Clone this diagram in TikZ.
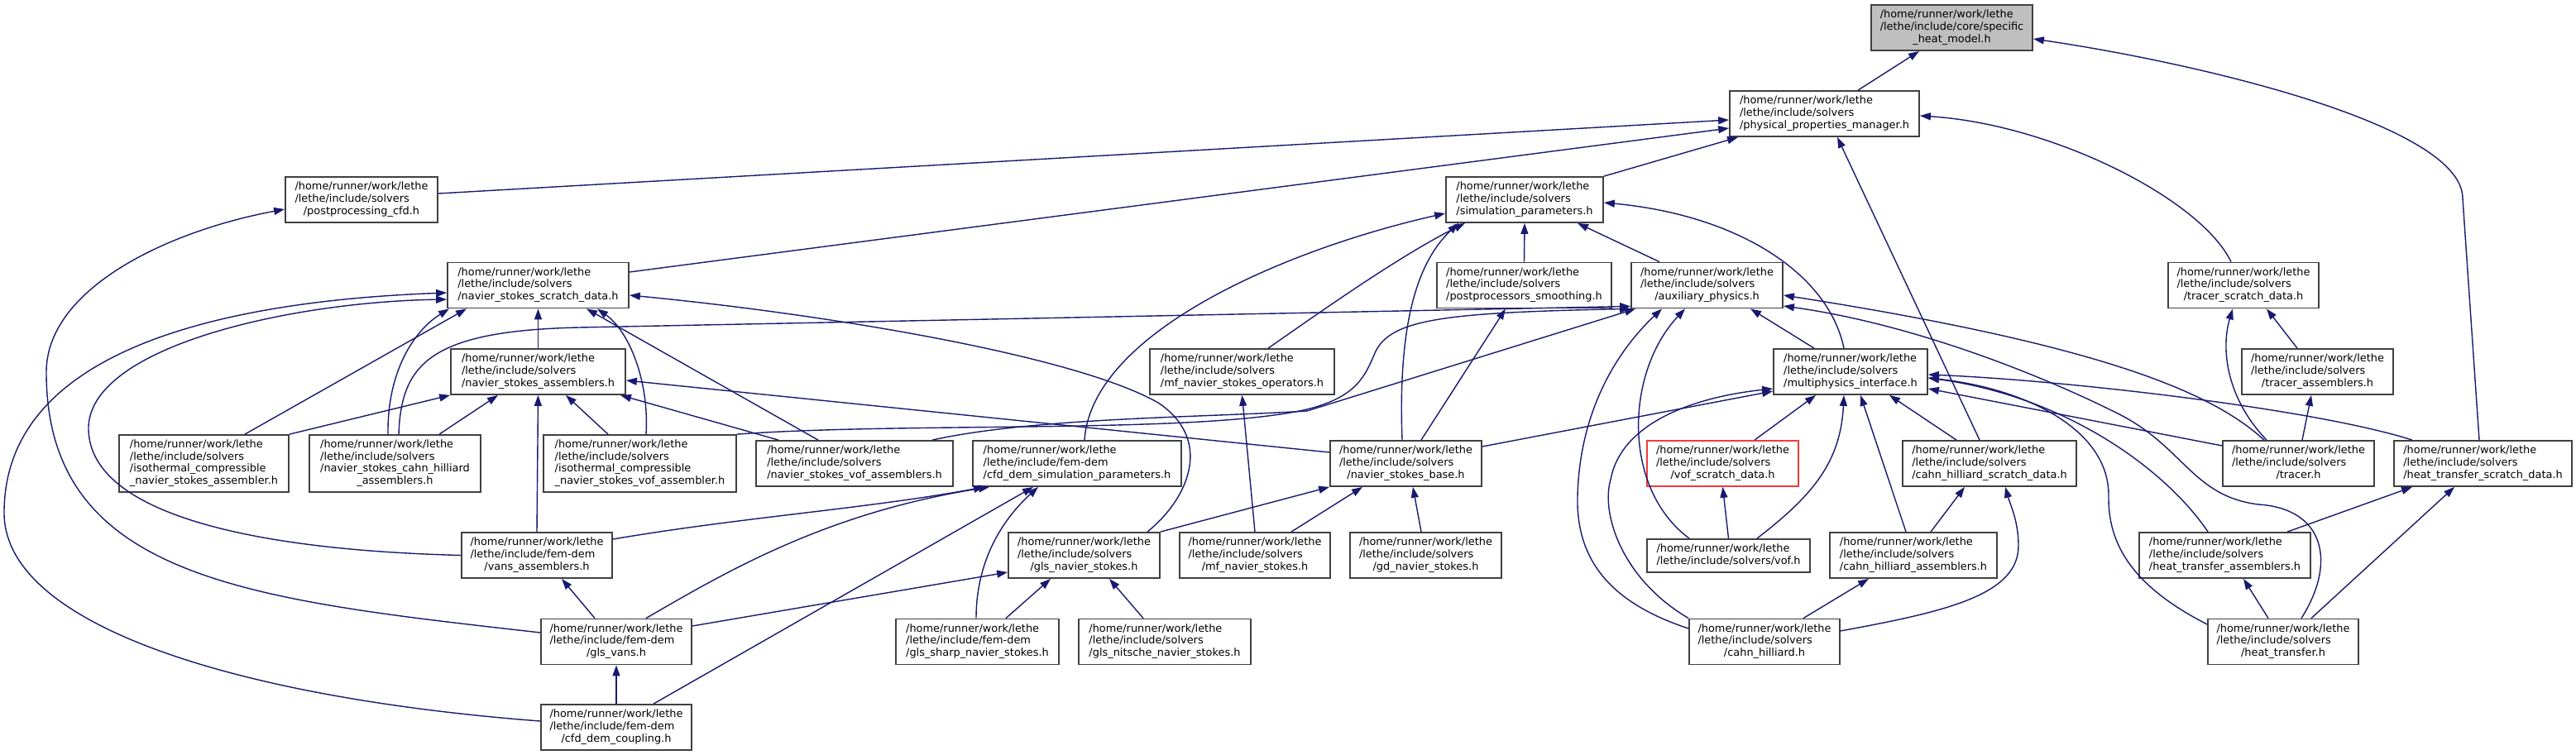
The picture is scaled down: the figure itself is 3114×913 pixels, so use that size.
\documentclass[tikz,border=0pt]{standalone}
\usepackage{fontspec}
\setmainfont{DejaVu Sans}
\usepackage{tikz}
\usetikzlibrary{arrows.meta}
\definecolor{dxblue}{HTML}{191970}
\definecolor{dxborder}{HTML}{404040}
\definecolor{dxgray}{HTML}{BFBFBF}
\definecolor{dxred}{HTML}{F03C3C}
\newcommand{\dxlab}[3]{\begin{tabular}{@{}l@{}}#1\\#2\\\multicolumn{1}{@{}c@{}}{#3}\end{tabular}}
\newcommand{\dxlabf}[4]{\begin{tabular}{@{}l@{}}#1\\#2\\#3\\\multicolumn{1}{@{}c@{}}{#4}\end{tabular}}
\newcommand{\dxlabt}[2]{\begin{tabular}{@{}l@{}}#1\\\multicolumn{1}{@{}c@{}}{#2}\end{tabular}}
\newcommand{\dxroot}{/home/runner/work/lethe}
\tikzset{
  dxfile/.style={draw=dxborder, line width=1.8pt, fill=white, inner sep=0pt, minimum height=55pt, font=\fontsize{12.9}{14.7}\selectfont},
  dxmain/.style={dxfile, fill=dxgray},
  dxtrunc/.style={dxfile, draw=dxred},
  dxarr/.style={-{Triangle[length=13pt, width=9pt]}, line width=1.4pt, draw=dxblue}
}
\begin{document}
\begin{tikzpicture}[x=1pt, y=-1pt]
  \useasboundingbox (0,0) rectangle (3114,913);
  \node[dxmain, minimum width=195pt] (heat) at (2359.5,33.5) {\dxlab{\dxroot}{/lethe/include/core/specific}{\_heat\_model.h}};
  \node[dxfile, minimum width=229pt] (phys) at (2205.5,137.5) {\dxlab{\dxroot}{/lethe/include/solvers}{/physical\_properties\_manager.h}};
  \node[dxfile, minimum width=184pt] (ppcfd) at (437,241.5) {\dxlab{\dxroot}{/lethe/include/solvers}{/postprocessing\_cfd.h}};
  \node[dxfile, minimum width=190pt] (simparams) at (1843,241.5) {\dxlab{\dxroot}{/lethe/include/solvers}{/simulation\_parameters.h}};
  \node[dxfile, minimum width=219pt] (nsscratch) at (650.5,345) {\dxlab{\dxroot}{/lethe/include/solvers}{/navier\_stokes\_scratch\_data.h}};
  \node[dxfile, minimum width=211pt] (ppsmooth) at (1842.5,345) {\dxlab{\dxroot}{/lethe/include/solvers}{/postprocessors\_smoothing.h}};
  \node[dxfile, minimum width=183pt] (aux) at (2063.5,345) {\dxlab{\dxroot}{/lethe/include/solvers}{/auxiliary\_physics.h}};
  \node[dxfile, minimum width=182pt] (tracerscratch) at (2712,345) {\dxlab{\dxroot}{/lethe/include/solvers}{/tracer\_scratch\_data.h}};
  \node[dxfile, minimum width=211pt] (nsasm) at (650.5,449.5) {\dxlab{\dxroot}{/lethe/include/solvers}{/navier\_stokes\_assemblers.h}};
  \node[dxfile, minimum width=223pt] (mfops) at (1501.5,449.5) {\dxlab{\dxroot}{/lethe/include/solvers}{/mf\_navier\_stokes\_operators.h}};
  \node[dxfile, minimum width=186pt] (multi) at (2237,449.5) {\dxlab{\dxroot}{/lethe/include/solvers}{/multiphysics\_interface.h}};
  \node[dxfile, minimum width=183pt] (tracerasm) at (2801.5,449.5) {\dxlab{\dxroot}{/lethe/include/solvers}{/tracer\_assemblers.h}};
  \node[dxfile, minimum width=205pt, minimum height=69pt] (isoasm) at (246.5,560.5) {\dxlabf{\dxroot}{/lethe/include/solvers}{/isothermal\_compressible}{\_navier\_stokes\_assembler.h}};
  \node[dxfile, minimum width=207pt, minimum height=69pt] (nschasm) at (477.5,560.5) {\dxlabf{\dxroot}{/lethe/include/solvers}{/navier\_stokes\_cahn\_hilliard}{\_assemblers.h}};
  \node[dxfile, minimum width=233pt, minimum height=69pt] (isovof) at (773.5,560.5) {\dxlabf{\dxroot}{/lethe/include/solvers}{/isothermal\_compressible}{\_navier\_stokes\_vof\_assembler.h}};
  \node[dxfile, minimum width=238pt] (nsvof) at (1033,560.5) {\dxlab{\dxroot}{/lethe/include/solvers}{/navier\_stokes\_vof\_assemblers.h}};
  \node[dxfile, minimum width=252pt] (cfdsim) at (1302,560.5) {\dxlab{\dxroot}{/lethe/include/fem-dem}{/cfd\_dem\_simulation\_parameters.h}};
  \node[dxfile, minimum width=183pt] (nsbase) at (1699.5,560.5) {\dxlab{\dxroot}{/lethe/include/solvers}{/navier\_stokes\_base.h}};
  \node[dxtrunc, minimum width=183pt] (vofscratch) at (2082.5,560.5) {\dxlab{\dxroot}{/lethe/include/solvers}{/vof\_scratch\_data.h}};
  \node[dxfile, minimum width=210pt] (chscratch) at (2405,560.5) {\dxlab{\dxroot}{/lethe/include/solvers}{/cahn\_hilliard\_scratch\_data.h}};
  \node[dxfile, minimum width=183pt] (tracer) at (2778.5,560.5) {\dxlab{\dxroot}{/lethe/include/solvers}{/tracer.h}};
  \node[dxfile, minimum width=215pt] (htscratch) at (3001.5,560.5) {\dxlab{\dxroot}{/lethe/include/solvers}{/heat\_transfer\_scratch\_data.h}};
  \node[dxfile, minimum width=182pt] (vansasm) at (649,671.5) {\dxlab{\dxroot}{/lethe/include/fem-dem}{/vans\_assemblers.h}};
  \node[dxfile, minimum width=183pt] (glsns) at (1310.5,671.5) {\dxlab{\dxroot}{/lethe/include/solvers}{/gls\_navier\_stokes.h}};
  \node[dxfile, minimum width=182pt] (mfns) at (1517,671.5) {\dxlab{\dxroot}{/lethe/include/solvers}{/mf\_navier\_stokes.h}};
  \node[dxfile, minimum width=183pt] (gdns) at (1723.5,671.5) {\dxlab{\dxroot}{/lethe/include/solvers}{/gd\_navier\_stokes.h}};
  \node[dxfile, minimum width=197pt, minimum height=40pt] (vof) at (2089.5,672) {\dxlabt{\dxroot}{/lethe/include/solvers/vof.h}};
  \node[dxfile, minimum width=202pt] (chasm) at (2313,671.5) {\dxlab{\dxroot}{/lethe/include/solvers}{/cahn\_hilliard\_assemblers.h}};
  \node[dxfile, minimum width=207pt] (htasm) at (2689.5,671.5) {\dxlab{\dxroot}{/lethe/include/solvers}{/heat\_transfer\_assemblers.h}};
  \node[dxfile, minimum width=182pt] (glsvans) at (745,776) {\dxlab{\dxroot}{/lethe/include/fem-dem}{/gls\_vans.h}};
  \node[dxfile, minimum width=197pt] (glssharp) at (1181.5,776) {\dxlab{\dxroot}{/lethe/include/fem-dem}{/gls\_sharp\_navier\_stokes.h}};
  \node[dxfile, minimum width=208pt] (glsnitsche) at (1408,776) {\dxlab{\dxroot}{/lethe/include/solvers}{/gls\_nitsche\_navier\_stokes.h}};
  \node[dxfile, minimum width=182pt] (cahnhilliard) at (2133,776) {\dxlab{\dxroot}{/lethe/include/solvers}{/cahn\_hilliard.h}};
  \node[dxfile, minimum width=182pt] (heattransfer) at (2760,776) {\dxlab{\dxroot}{/lethe/include/solvers}{/heat\_transfer.h}};
  \node[dxfile, minimum width=182pt] (cfdcoupling) at (745,879.5) {\dxlab{\dxroot}{/lethe/include/fem-dem}{/cfd\_dem\_coupling.h}};

  \draw[dxarr] ([xshift=40.5pt]phys.north) -- ([xshift=-39.5pt]heat.south);
  \draw[dxarr] ([xshift=-4.5pt]htscratch.north) -- (2977,240) .. controls (2977,150) and (2650,75) .. ([yshift=-13.5pt]heat.east);
  \draw[dxarr] ([yshift=7.5pt]ppcfd.east) -- ([yshift=-7.5pt]phys.west);
  \draw[dxarr] ([yshift=16pt]nsscratch.east) -- ([yshift=-17.5pt]phys.west);
  \draw[dxarr] (simparams.north east) -- ([xshift=-104.5pt]phys.south);
  \draw[dxarr] ([xshift=-15pt]tracerscratch.north) .. controls (2660,240) and (2480,150) .. ([yshift=-2.5pt]phys.east);
  \draw[dxarr] ([xshift=-12pt]chscratch.north) -- ([xshift=15.5pt]phys.south);
  \draw[dxarr] ([yshift=11pt]glsvans.west) .. controls (300,725) and (56,700) .. (56,450) .. controls (56,350) and (200,280) .. ([yshift=-11.5pt]ppcfd.west);
  \draw[dxarr] ([xshift=9pt]cfdsim.north) .. controls (1320,400) and (1560,300) .. ([yshift=-16.5pt]simparams.west);
  \draw[dxarr] ([xshift=31.5pt]mfops.north) .. controls (1585,385) and (1690,310) .. ([xshift=-72pt]simparams.south);
  \draw[dxarr] ([xshift=-4.5pt]nsbase.north) .. controls (1690,400) and (1710,320) .. ([xshift=-80pt]simparams.south);
  \draw[dxarr] (ppsmooth.north) -- (simparams.south);
  \draw[dxarr] ([xshift=-57.5pt]aux.north) -- ([xshift=64pt]simparams.south);
  \draw[dxarr] ([xshift=-8pt]multi.north) .. controls (2210,330) and (2100,260) .. ([yshift=-3.5pt]simparams.east);
  \draw[dxarr] ([yshift=7.5pt]cfdcoupling.west) .. controls (300,845) and (5,760) .. (5,620) .. controls (5,430) and (250,365) .. ([yshift=-9pt]nsscratch.west);
  \draw[dxarr] (vansasm.west) .. controls (300,665) and (110,620) .. (107,520) .. controls (104,420) and (350,365) .. ([yshift=-17pt]nsscratch.west);
  \draw[dxarr] ([xshift=49.5pt]isoasm.north) -- ([xshift=-86.5pt]nsscratch.south);
  \draw[dxarr] ([xshift=-8.5pt]nschasm.north) .. controls (468,450) and (500,400) .. ([xshift=-107.5pt]nsscratch.south);
  \draw[dxarr] (nsasm) -- (nsscratch);
  \draw[dxarr] ([xshift=7.5pt]isovof.north) .. controls (785,460) and (760,400) .. ([xshift=71.5pt]nsscratch.south);
  \draw[dxarr] ([xshift=-44pt]nsvof.north) -- ([xshift=58.5pt]nsscratch.south);
  \draw[dxarr] ([xshift=76.5pt]glsns.north) .. controls (1440,600) and (1465,530) .. (1400,487) .. controls (1300,430) and (1000,380) .. ([yshift=-12pt]nsscratch.east);
  \draw[dxarr] (isoasm.north east) -- (nsasm.south west);
  \draw[dxarr] ([xshift=53.5pt]nschasm.north) -- ([xshift=-48.5pt]nsasm.south);
  \draw[dxarr] (vansasm.north) -- (nsasm.south);
  \draw[dxarr] ([xshift=-38.5pt]isovof.north) -- ([xshift=33.5pt]nsasm.south);
  \draw[dxarr] ([xshift=-92pt]nsvof.north) -- ([xshift=99.5pt]nsasm.south);
  \draw[dxarr] ([yshift=13.5pt]nsbase.west) -- ([yshift=-10.5pt]nsasm.east);
  \draw[dxarr] ([xshift=4.5pt]nschasm.north) .. controls (485,440) and (520,400) .. (700,396) -- ([yshift=3pt]aux.south west);
  \draw[dxarr] ([xshift=94pt]nsvof.north) .. controls (1250,505) and (1450,505) .. (1580,497) -- ([xshift=6pt]aux.south west);
  \draw[dxarr] (isovof.north east) .. controls (1100,510) and (1450,525) .. (1580,495) .. controls (1640,480) and (1650,455) .. (1662,427) .. controls (1680,385) and (1750,378) .. (aux.south west);
  \draw[dxarr] ([yshift=16pt]cahnhilliard.west) .. controls (1950,730) and (1905,680) .. (1907,600) .. controls (1910,480) and (1970,410) .. ([xshift=-54.5pt]aux.south);
  \draw[dxarr] ([xshift=-47.5pt]vof.north) .. controls (1960,590) and (1965,450) .. ([xshift=-26.5pt]aux.south);
  \draw[dxarr] ([xshift=-44pt]multi.north) -- ([xshift=52.5pt]aux.south);
  \draw[dxarr] ([xshift=-41.5pt]tracer.north) .. controls (2680,480) and (2560,420) .. ([yshift=-12pt]aux.east);
  \draw[dxarr] ([xshift=22pt]heattransfer.north) .. controls (2825,680) and (2810,615) .. (2730,610) .. controls (2650,600) and (2640,540) .. (2560,500) .. controls (2450,445) and (2300,390) .. ([yshift=-25pt]aux.east);
  \draw[dxarr] ([xshift=18.5pt]nsbase.north) -- ([xshift=-22.5pt]ppsmooth.south);
  \draw[dxarr] ([yshift=20.5pt]nsbase.east) -- ([yshift=-23.5pt]multi.west);
  \draw[dxarr] ([xshift=38.5pt]vofscratch.north) -- ([xshift=-42pt]multi.south);
  \draw[dxarr] ([xshift=34.5pt]vof.north) .. controls (2190,600) and (2225,560) .. ([xshift=-8pt]multi.south);
  \draw[dxarr] ([xshift=-9pt]chasm.north) -- ([xshift=12pt]multi.south);
  \draw[dxarr] ([xshift=-40pt]chscratch.north) -- ([xshift=47pt]multi.south);
  \draw[dxarr] (cahnhilliard.north west) .. controls (1960,700) and (1935,620) .. (1947,580) .. controls (1960,510) and (2050,480) .. ([yshift=-20.5pt]multi.west);
  \draw[dxarr] ([xshift=-85.5pt]htscratch.north) .. controls (2800,495) and (2500,460) .. ([yshift=-3.5pt]multi.east);
  \draw[dxarr] ([yshift=21pt]heattransfer.west) .. controls (2580,710) and (2548,660) .. (2549,600) .. controls (2550,520) and (2450,470) .. ([yshift=-7.5pt]multi.east);
  \draw[dxarr] ([xshift=-20.5pt]htasm.north) .. controls (2620,570) and (2500,480) .. ([yshift=-7.5pt]multi.east);
  \draw[dxarr] ([yshift=21.5pt]tracer.west) -- ([yshift=-20.5pt]multi.east);
  \draw[dxarr] ([xshift=-24.5pt]tracerasm.north) -- ([xshift=28pt]tracerscratch.south);
  \draw[dxarr] ([xshift=-38.5pt]tracer.north) .. controls (2690,480) and (2685,420) .. ([xshift=-13pt]tracerscratch.south);
  \draw[dxarr] ([xshift=4.5pt]tracer.north) -- ([xshift=-7.5pt]tracerasm.south);
  \draw[dxarr] ([xshift=75.5pt]htasm.north) -- ([xshift=-85.5pt]htscratch.south);
  \draw[dxarr] ([xshift=34pt]heattransfer.north) -- ([xshift=-34.5pt]htscratch.south);
  \draw[dxarr] ([xshift=-18pt]heattransfer.north) -- ([xshift=22.5pt]htasm.south);
  \draw[dxarr] ([xshift=21pt]chasm.north) -- ([xshift=-30pt]chscratch.south);
  \draw[dxarr] ([yshift=13pt]cahnhilliard.east) .. controls (2350,740) and (2440,720) .. (2440,660) .. controls (2440,630) and (2430,610) .. ([xshift=19pt]chscratch.south);
  \draw[dxarr] ([xshift=47pt]cahnhilliard.north) -- ([xshift=-54pt]chasm.south);
  \draw[dxarr] (vof.north) -- (vofscratch.south);
  \draw[dxarr] (glsns.north east) -- (nsbase.south west);
  \draw[dxarr] ([xshift=44pt]mfns.north) -- ([xshift=-52.5pt]nsbase.south);
  \draw[dxarr] ([xshift=-5.5pt]gdns.north) -- ([xshift=8.5pt]nsbase.south);
  \draw[dxarr] (mfns.north) -- (mfops.south);
  \draw[dxarr] ([yshift=19.5pt]vansasm.east) .. controls (900,625) and (1050,615) .. ([xshift=-112pt]cfdsim.south);
  \draw[dxarr] ([xshift=36pt]glsvans.north) .. controls (880,690) and (1000,620) .. ([xshift=-106pt]cfdsim.south);
  \draw[dxarr] ([xshift=45pt]cfdcoupling.north) -- ([xshift=-53pt]cfdsim.south);
  \draw[dxarr] ([xshift=-1.5pt]glssharp.north) .. controls (1180,680) and (1210,630) .. ([xshift=-47pt]cfdsim.south);
  \draw[dxarr] ([yshift=19pt]glsvans.east) -- ([yshift=-20.5pt]glsns.west);
  \draw[dxarr] ([xshift=34.5pt]glssharp.north) -- ([xshift=-40.5pt]glsns.south);
  \draw[dxarr] ([xshift=-26pt]glsnitsche.north) -- ([xshift=30.5pt]glsns.south);
  \draw[dxarr] ([xshift=-26pt]glsvans.north) -- ([xshift=30pt]vansasm.south);
  \draw[dxarr] (cfdcoupling) -- (glsvans);
\end{tikzpicture}
\end{document}
